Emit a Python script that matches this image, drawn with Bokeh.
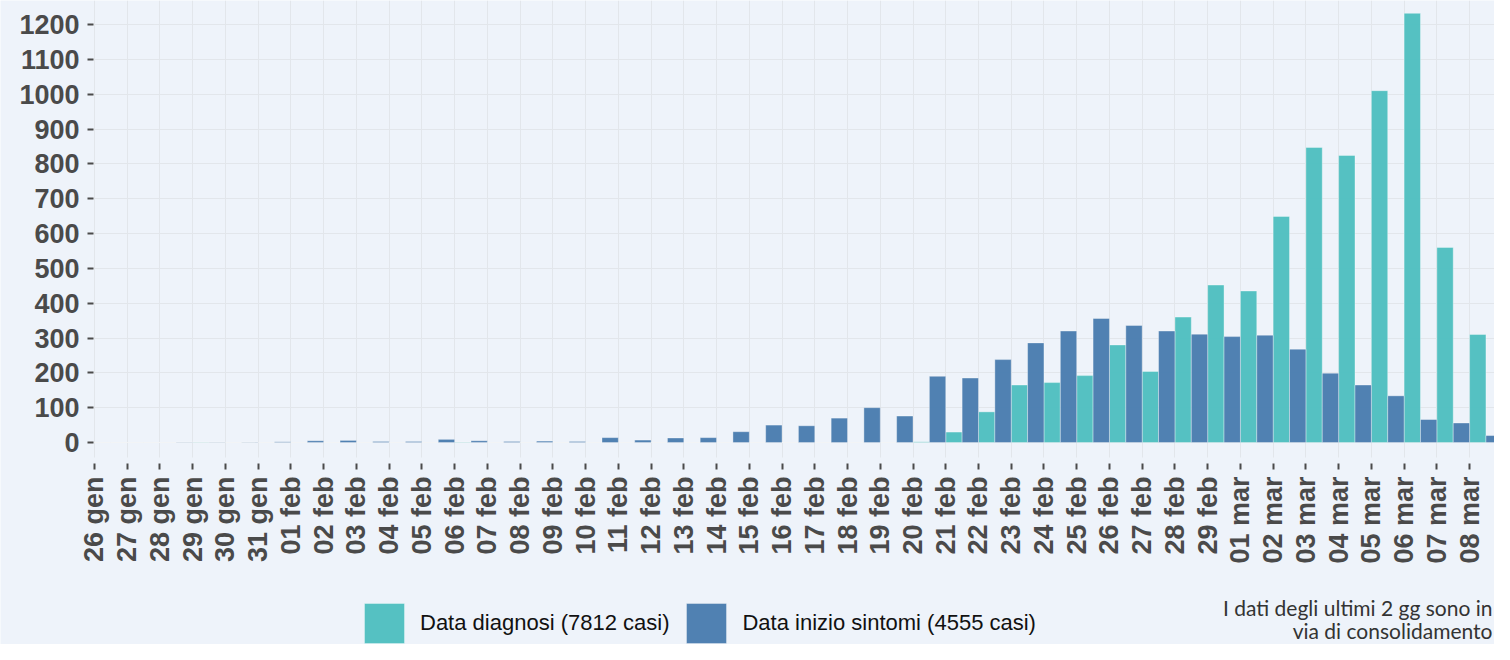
from bokeh.plotting import figure
from bokeh.models import (ColumnDataSource, Range1d, FixedTicker, Legend, LegendItem, Label)
from bokeh.embed import file_html
from bokeh.resources import INLINE

# ---- data ----
dates = ["26 gen", "27 gen", "28 gen", "29 gen", "30 gen", "31 gen",
         "01 feb", "02 feb", "03 feb", "04 feb", "05 feb", "06 feb", "07 feb",
         "08 feb", "09 feb", "10 feb", "11 feb", "12 feb", "13 feb", "14 feb",
         "15 feb", "16 feb", "17 feb", "18 feb", "19 feb", "20 feb", "21 feb",
         "22 feb", "23 feb", "24 feb", "25 feb", "26 feb", "27 feb", "28 feb",
         "29 feb", "01 mar", "02 mar", "03 mar", "04 mar", "05 mar", "06 mar",
         "07 mar", "08 mar", "09 mar"]

diagnosi = [0, 0, 0, 1, 0, 0,
            0, 0, 0, 0, 0, 1, 0,
            0, 0, 0, 0, 0, 0, 0,
            0, 0, 0, 0, 0, 2, 30,
            88, 165, 172, 192, 280, 204, 360,
            452, 435, 649, 847, 824, 1010, 1232,
            560, 310, 0]

sintomi = [0, 0, 1, 1, 1, 2,
           5, 6, 3, 3, 9, 5, 3,
           4, 3, 14, 7, 13, 14, 31,
           50, 48, 70, 100, 76, 190, 185,
           238, 286, 320, 356, 336, 320, 311,
           304, 308, 268, 199, 165, 134, 66,
           56, 20, 0]

y_ticks = list(range(0, 1300, 100))
legend_labels = ["Data diagnosi (7812 casi)", "Data inizio sintomi (4555 casi)"]
note_lines = ["I dati degli ultimi 2 gg sono in", "via di consolidamento"]

# ---- style / layout ----
BG = "#EEF3FA"
GRID = "#E2E6EB"
TEAL = "#4FBFC0"
BLUE = "#4A7DB0"
TXT = "#4A4A4A"

W, H = 1494, 644
X0, XEND = -2.871, 42.761          # visible x extent (plot spans the canvas)
PLOT_X0 = -0.03                    # left edge of the plotting area
Y0, YEND = -579.9, 1268.9          # visible y extent
PLOT_Y0 = -43.06                   # bottom edge of the plotting area

idx = list(range(len(dates)))
src = ColumnDataSource(dict(
    x_d=[i + 0.25 for i in idx],
    x_s=[i + 0.75 for i in idx],
    diagnosi=diagnosi,
    sintomi=sintomi,
))

p = figure(width=W, height=H, output_backend="svg", toolbar_location=None,
           x_range=Range1d(X0, XEND), y_range=Range1d(Y0, YEND),
           min_border_left=0, min_border_right=0, min_border_top=0,
           min_border_bottom=0)
p.background_fill_color = BG
p.border_fill_color = BG
p.outline_line_color = None

r1 = p.vbar(x="x_d", top="diagnosi", bottom=0, width=0.5, source=src,
            fill_color=TEAL, fill_alpha=0.97, line_color="white", line_alpha=0.35, line_width=1)
r2 = p.vbar(x="x_s", top="sintomi", bottom=0, width=0.5, source=src,
            fill_color=BLUE, fill_alpha=0.97, line_color="white", line_alpha=0.35, line_width=1)

# axes
p.xaxis.ticker = FixedTicker(ticks=idx)
p.xaxis.major_label_overrides = {i: d for i, d in zip(idx, dates)}
p.xaxis.major_label_orientation = 3.14159265 / 2
p.xaxis.fixed_location = PLOT_Y0
p.yaxis.ticker = FixedTicker(ticks=y_ticks)
p.yaxis.fixed_location = PLOT_X0

for ax in (p.xaxis[0], p.yaxis[0]):
    ax.axis_line_color = None
    ax.minor_tick_line_color = None
    ax.major_tick_line_color = TXT
    ax.major_tick_line_width = 2
    ax.major_label_text_font = "Liberation Sans"
    ax.major_label_text_font_style = "bold"
    ax.major_label_text_font_size = "27px"
    ax.major_label_text_color = TXT

p.xaxis.major_tick_in = -6
p.xaxis.major_tick_out = 12
p.xaxis.major_label_standoff = 7
p.yaxis.major_tick_in = 0
p.yaxis.major_tick_out = 6
p.yaxis.major_label_standoff = 8

p.xgrid.grid_line_color = GRID
p.ygrid.grid_line_color = GRID
p.xgrid.grid_line_width = 1
p.ygrid.grid_line_width = 1
p.xgrid.cross_bounds = (PLOT_Y0, YEND)
p.ygrid.cross_bounds = (PLOT_X0, XEND)

legend = Legend(items=[LegendItem(label=legend_labels[0], renderers=[r1]),
                       LegendItem(label=legend_labels[1], renderers=[r2])],
                orientation="horizontal", location=(359, -4),
                glyph_width=50, glyph_height=50, padding=0, margin=0,
                spacing=12, label_standoff=11,
                label_text_font="Liberation Sans", label_text_font_size="22px",
                label_text_color="#111111", label_text_baseline="middle",
                background_fill_alpha=0, border_line_color=None)
p.add_layout(legend)

for txt, yy in [(note_lines[0], H - 607), (note_lines[1], H - 630)]:
    p.add_layout(Label(x=1492, y=yy, x_units="screen", y_units="screen", text=txt,
                       text_font="Lato", text_font_size="21px", text_color="#333333",
                       text_baseline="middle", text_align="right"))

open("out.html", "w").write(file_html(p, INLINE))
